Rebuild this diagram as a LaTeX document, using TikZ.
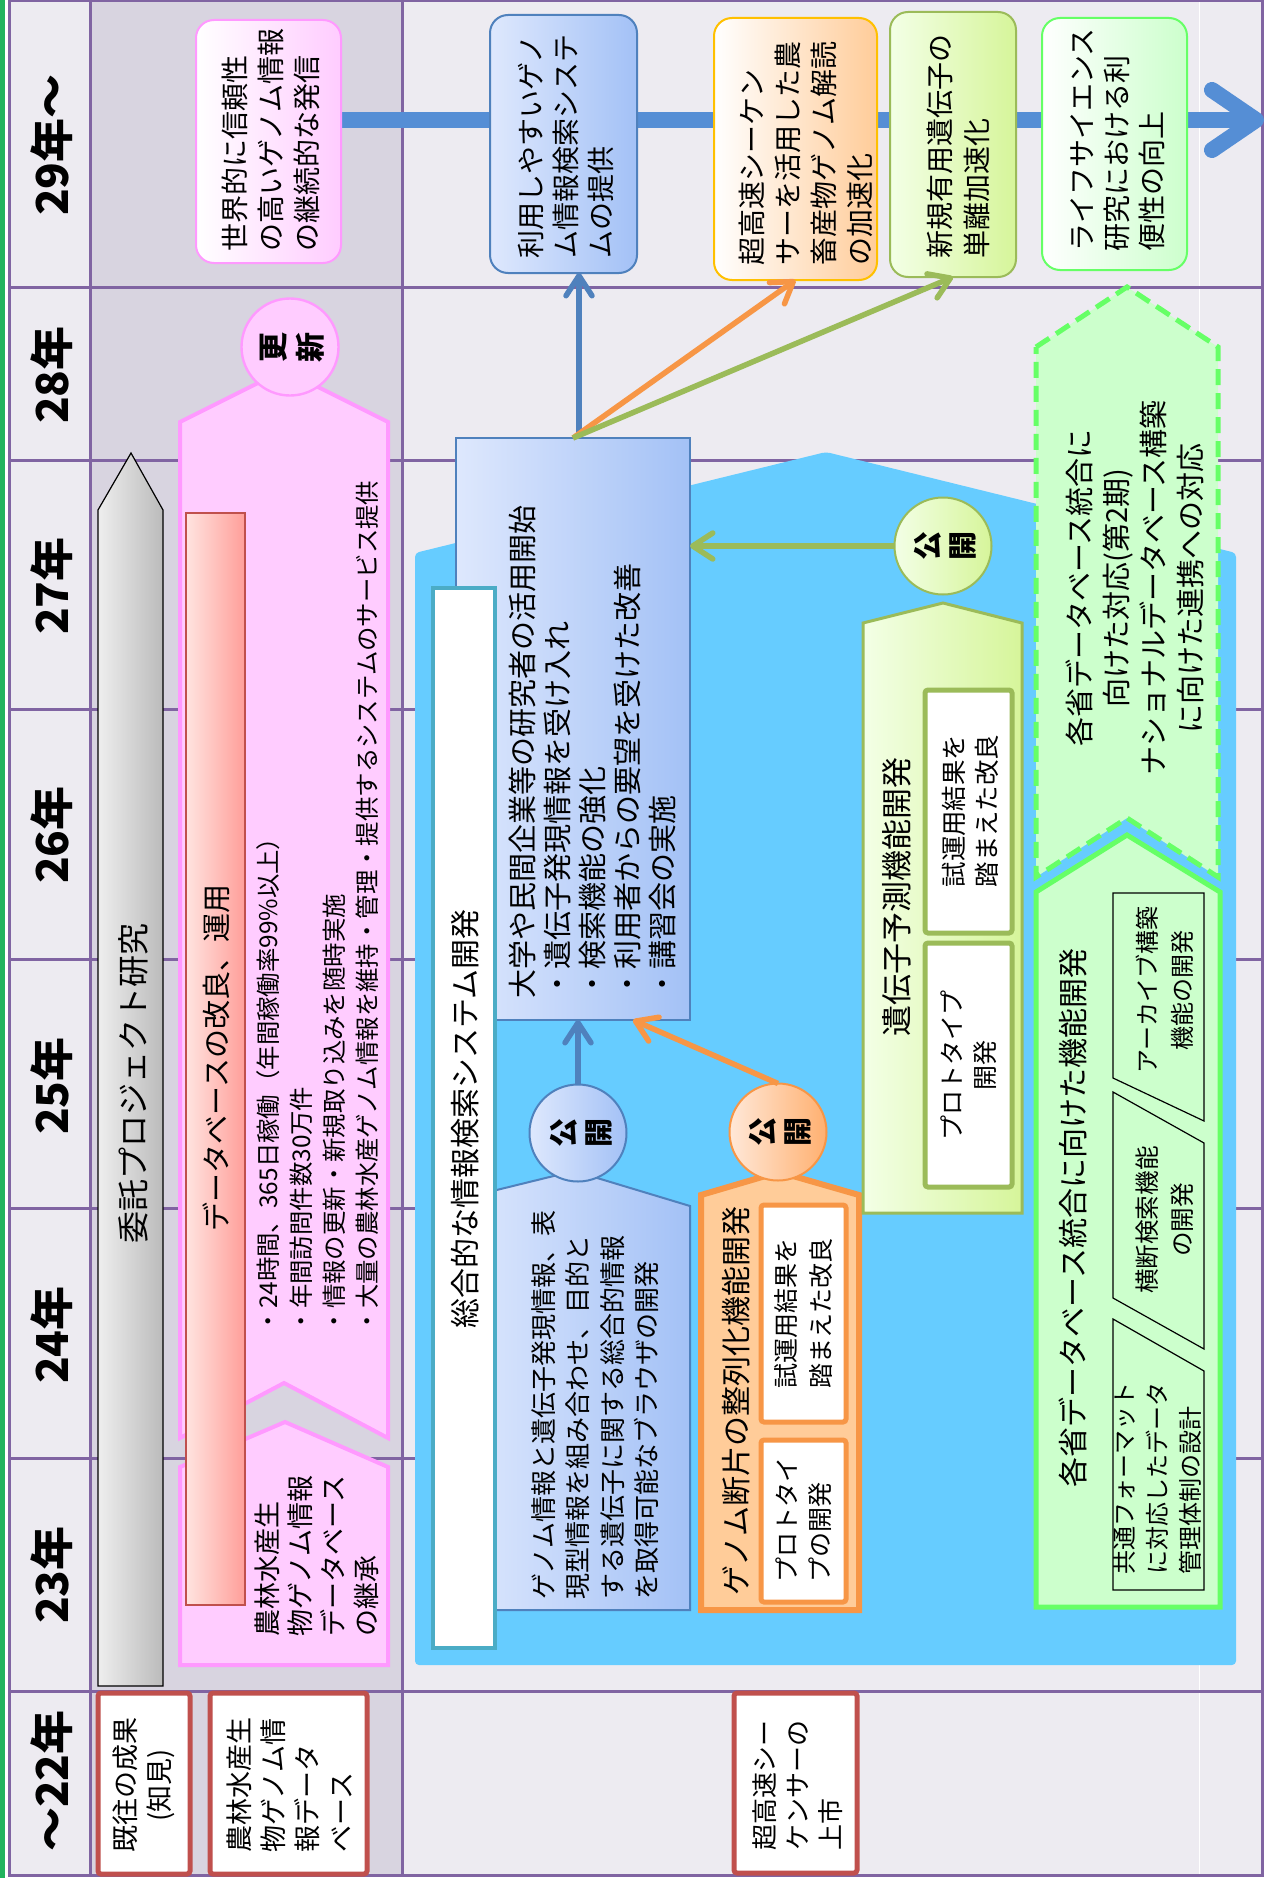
\documentclass[tikz,border=0pt]{standalone}
\usepackage{fontspec}
\setmainfont{Noto Sans CJK JP}
\usetikzlibrary{arrows.meta,shapes.geometric}
\definecolor{gridc}{HTML}{8064A2}
\definecolor{bgl}{HTML}{EDEBF1}
\definecolor{bgg}{HTML}{D8D4E0}
\definecolor{pinkf}{HTML}{FFCCFF}
\definecolor{pinkd}{HTML}{FF99FF}
\definecolor{redb}{HTML}{C0504D}
\definecolor{skyb}{HTML}{66CCFF}
\definecolor{blueL}{HTML}{DEE8FD}
\definecolor{blueR}{HTML}{A3C1F6}
\definecolor{blued}{HTML}{4F81BD}
\definecolor{bandc}{HTML}{558ED5}
\definecolor{tealb}{HTML}{4BACC6}
\definecolor{orf}{HTML}{FFCC99}
\definecolor{orL}{HTML}{FFE8D8}
\definecolor{orR}{HTML}{FFB070}
\definecolor{ord}{HTML}{F79646}
\definecolor{goldb}{HTML}{FFC000}
\definecolor{olive}{HTML}{9BBB59}
\definecolor{limeL}{HTML}{F3FFE6}
\definecolor{limeR}{HTML}{D6F59A}
\definecolor{mint}{HTML}{CCFFCC}
\definecolor{mintd}{HTML}{66FF66}
\definecolor{salL}{HTML}{FFE4E0}
\definecolor{salR}{HTML}{FF9E99}
\definecolor{grayL}{HTML}{EEEEEE}
\definecolor{grayR}{HTML}{BBBBBB}
\definecolor{edgegreen}{HTML}{22B35E}
\newcommand\fz[2]{\fontsize{#1}{#2}\selectfont}
\begin{document}
\begin{tikzpicture}[x=0.5pt,y=-0.5pt,
  vt/.style={rotate=90, inner sep=0pt, align=left, text=black},
  vtc/.style={rotate=90, inner sep=0pt, align=center, text=black},
  yr/.style={vtc, font=\fz{22}{24}\bfseries},
  gridline/.style={draw=gridc, line width=1.5pt},
  rb/.style={rectangle, inner sep=0pt, outer sep=0pt},
  redbox/.style={rb, draw=redb, line width=2.5pt, fill=white, rounded corners=1.5pt},
  topbox/.style={rb, line width=1pt, rounded corners=9pt},
  disc/.style={circle, inner sep=0pt, outer sep=0pt, minimum size=48.5pt, line width=1pt},
  thinarrow/.style={line width=2.75pt, -{Straight Barb[length=10pt,width=13pt,round]}},
  bandarrow/.style={line width=8pt, line cap=round, color=bandc, -{Straight Barb[length=22pt,width=30pt,round]}}
]
\useasboundingbox (0,0) rectangle (1271,1884);
\fill[white] (0,0) rectangle (1271,1884);
% backgrounds
\fill[bgl] (9,1) rectangle (1262,1875);
\fill[bgg] (90,1) rectangle (402,1875);
\draw[white, line width=0.5pt] (1199,1) -- (1199,1875);
% grid
\foreach \yy in {287,460,709,959,1208,1458,1691} \draw[gridline] (9,\yy) -- (1262,\yy);
\draw[gridline] (90,1) -- (90,1875);
\draw[gridline] (402,1) -- (402,1875);
\draw[gridline] (9,1) rectangle (1262,1875);
\draw[edgegreen, line width=2.5pt] (2,0) -- (2,1878);
% year labels
\node[yr] (y29) at (52,145) {29年～};
\node[yr] (y28) at (52,375) {28年};
\node[yr] (y27) at (52,586) {27年};
\node[yr] (y26) at (52,835) {26年};
\node[yr] (y25) at (52,1086) {25年};
\node[yr] (y24) at (52,1335) {24年};
\node[yr] (y23) at (52,1575) {23年};
\node[yr] (y22) at (52,1781) {～22年};

% ===== gray column =====
\path[draw=black, line width=0.6pt, left color=grayL, right color=grayR]
  (98,510) -- (131,453) -- (163,510) -- (163,1686) -- (98,1686) -- cycle;
\node[vtc, font=\fz{16}{18}] (itaku) at (133,1083) {委託プロジェクト研究};

\path[fill=pinkf, draw=pinkd, line width=2pt, line join=miter]
  (180,422) -- (284,370) -- (388,422) -- (388,1438) -- (284,1383) -- (180,1438) -- cycle;
\path[fill=pinkf, draw=pinkd, line width=2pt]
  (180,1467) -- (285,1422) -- (388,1467) -- (388,1665) -- (180,1665) -- cycle;
\node[rb, draw=redb, line width=0.8pt, left color=salL, right color=salR, minimum width=29.5pt, minimum height=546pt] (salbar) at (215.5,1059) {};
\node[vtc, font=\fz{14.5}{17}] (dbkai) at (216,1058) {データベースの改良、運用};
\node[vt, font=\fz{12.2}{16.5}] (bul) at (318,907) {・24時間、365日稼働（年間稼働率99\%以上）\\・年間訪問件数30万件\\・情報の更新・新規取り込みを随時実施\\・大量の農林水産ゲノム情報を維持・管理・提供するシステムのサービス提供};
\node[disc, fill=pinkf, draw=pinkd, line width=1.2pt] (ckoushin) at (290,347) {};
\node[vtc, font=\fz{15}{18.5}\bfseries] (tkoushin) at (292,347) {更\\新};
\node[vt, font=\fz{13.5}{16.5}] (keisho) at (317,1556) {農林水産生\\物ゲノム情報\\データベース\\の継承};

\node[redbox, minimum width=46pt, minimum height=90.5pt] (kio) at (144,1783.5) {};
\node[vtc, font=\fz{13.5}{17}] (tkio) at (144,1785) {既往の成果\\(知見)};
\node[redbox, minimum width=78.5pt, minimum height=90.5pt] (nodb) at (288.5,1783.5) {};
\node[vt, font=\fz{13.5}{17}] (tnodb) at (290,1785) {農林水産生\\物ゲノム情\\報データ\\ベース};

% ===== top row =====
\coordinate (bandS) at (341,120);
\coordinate (bandE) at (1264,120);
\draw[bandarrow] (bandS) -- (bandE);

\node[topbox, draw=pinkd, left color=white, right color=pinkf, minimum width=72.5pt, minimum height=121.5pt] (wbox) at (268.5,141.5) {};
\node[vt, font=\fz{14}{18}] (twbox) at (271,140) {世界的に信頼性\\の高いゲノム情報\\の継続的な発信};
\node[topbox, draw=blued, left color=blueL, right color=blueR, minimum width=73.5pt, minimum height=129pt] (riyo) at (563.5,144) {};
\node[vt, font=\fz{14}{17.5}] (triyo) at (565.5,146) {利用しやすいゲノ\\ム情報検索システ\\ムの提供};
\node[topbox, draw=goldb, left color=white, right color=orf, minimum width=81.5pt, minimum height=131pt] (tokou) at (795.5,149) {};
\node[vt, font=\fz{14}{18}] (ttokou) at (806,153) {超高速シーケン\\サーを活用した農\\畜産物ゲノム解読\\の加速化};
\node[topbox, draw=olive, left color=limeL, right color=limeR, minimum width=63pt, minimum height=132.5pt] (shinki) at (953,144.5) {};
\node[vt, font=\fz{14}{18.5}] (tshinki) at (958.5,146) {新規有用遺伝子の\\単離加速化};
\node[topbox, draw=mintd, left color=white, right color=mint, minimum width=72.5pt, minimum height=126pt] (life) at (1114.5,144) {};
\node[vt, font=\fz{14}{17.5}] (tlife) at (1117.5,140) {ライフサイエンス\\研究における利\\便性の向上};

% ===== blue region =====
\path[fill=skyb, rounded corners=2pt] (415,553) -- (826,452) -- (1236,553) -- (1236,1665) -- (415,1665) -- cycle;

\node[rb, draw=blued, line width=1pt, left color=blueL, right color=blueR, minimum width=117pt, minimum height=291pt] (sys) at (573,729) {};
\node[vt, font=\fz{14.5}{17.5}] (tsys) at (592,752) {大学や民間企業等の研究者の活用開始\\・遺伝子発現情報を受け入れ\\・検索機能の強化\\・利用者からの要望を受けた改善\\・講習会の実施};

\path[draw=blued, line width=1pt, left color=blueL, right color=blueR]
  (460,1199) -- (574,1171) -- (690,1206) -- (690,1610) -- (460,1610) -- cycle;
\node[vt, font=\fz{13}{17.25}] (tbrow) at (595,1405) {ゲノム情報と遺伝子発現情報、表\\現型情報を組み合わせ、目的と\\する遺伝子に関する総合的情報\\を取得可能なブラウザの開発};

\node[rb, draw=tealb, line width=2.25pt, fill=white, minimum width=31pt, minimum height=530pt] (wbar) at (464,1118) {};
\node[vtc, font=\fz{15}{17}] (twbar) at (465,1119) {総合的な情報検索システム開発};

\node[disc, draw=blued, left color=blueL, right color=blueR] (cblue) at (578,1133) {};
\node[vtc, font=\fz{14.5}{17.5}\bfseries] (tcblue) at (581,1133) {公\\開};

% orange
\path[fill=orf, draw=ord, line width=3pt]
  (701,1195) -- (779,1172) -- (859,1195) -- (859,1610) -- (701,1610) -- cycle;
\node[vtc, font=\fz{15}{17}] (tseiretsu) at (736,1401) {ゲノム断片の整列化機能開発};
\node[rb, draw=ord, line width=2.5pt, fill=white, rounded corners=1.5pt, minimum width=42.5pt, minimum height=108.5pt] (oin1) at (803.5,1313.5) {};
\node[vtc, font=\fz{12.5}{17.5}] (toin1) at (804,1313) {試運用結果を\\踏まえた改良};
\node[rb, draw=ord, line width=2.5pt, fill=white, rounded corners=1.5pt, minimum width=42.5pt, minimum height=81pt] (oin2) at (803.5,1521) {};
\node[vt, font=\fz{12.5}{16.5}] (toin2) at (803.5,1520) {プロトタイ\\プの開発};
\node[disc, draw=ord, left color=orL, right color=orR] (corange) at (778,1132) {};
\node[vtc, font=\fz{14.5}{17.5}\bfseries] (tcorange) at (780,1132) {公\\開};

% light green (gene prediction)
\path[draw=olive, line width=1.5pt, left color=limeL, right color=limeR]
  (863,623) -- (943,603) -- (1022,623) -- (1022,1213) -- (863,1213) -- cycle;
\node[vtc, font=\fz{15.5}{17}] (tyosoku) at (897,897) {遺伝子予測機能開発};
\node[rb, draw=olive, line width=2.5pt, fill=white, rounded corners=1.5pt, minimum width=43.5pt, minimum height=121.5pt] (gin1) at (968.5,811.5) {};
\node[vtc, font=\fz{12.7}{16.5}] (tgin1) at (970,811) {試運用結果を\\踏まえた改良};
\node[rb, draw=olive, line width=2.5pt, fill=white, rounded corners=1.5pt, minimum width=43.5pt, minimum height=122pt] (gin2) at (968.5,1065) {};
\node[vtc, font=\fz{12.5}{16.5}] (tgin2) at (968.5,1065) {プロトタイプ\\開発};
\node[disc, draw=olive, left color=limeL, right color=limeR] (cgreen) at (943,546) {};
\node[vtc, font=\fz{14.5}{17.5}\bfseries] (tcgreen) at (945,546) {公\\開};

% dashed green pentagon
\path[fill=mint, draw=mintd, line width=2.5pt, dash pattern=on 8pt off 4pt]
  (1036,347) -- (1127,287) -- (1218,347) -- (1218,877) -- (1127,818) -- (1036,877) -- cycle;
\node[vtc, font=\fz{14.5}{18.5}] (tdaini) at (1135,588) {各省データベース統合に\\向けた対応(第2期)\\ナショナルデータベース構築\\に向けた連携への対応};

% solid green pentagon
\path[fill=mint, draw=mintd, line width=2.5pt]
  (1036,892) -- (1127,835) -- (1220,892) -- (1220,1607) -- (1036,1607) -- cycle;
\node[vtc, font=\fz{15}{17}] (tkino) at (1073,1218) {各省データベース統合に向けた機能開発};
\path[draw=black, line width=0.6pt] (1113,893) -- (1204,893) -- (1204,1121) -- (1113,1078) -- cycle;
\path[draw=black, line width=0.6pt] (1113,1092) -- (1204,1143) -- (1204,1349) -- (1113,1298) -- cycle;
\path[draw=black, line width=0.6pt] (1113,1319) -- (1204,1371) -- (1204,1590) -- (1113,1590) -- cycle;
\node[vtc, font=\fz{12}{17.5}] (tarch) at (1165,990) {アーカイブ構築\\機能の開発};
\node[vtc, font=\fz{12.3}{17.5}] (tcross) at (1165,1220) {横断検索機能\\の開発};
\node[vt, font=\fz{12}{16.5}] (tformat) at (1157,1478) {共通フォーマット\\に対応したデータ\\管理体制の設計};

% row 22 main
\node[redbox, minimum width=61.5pt, minimum height=90pt] (seq22) at (795.5,1783) {};
\node[vt, font=\fz{13}{16.5}] (tseq22) at (797.5,1785) {超高速シー\\ケンサーの\\上市};

% ===== connectors =====
\draw[thinarrow, blued] ([xshift=3pt]sys.north) -- ([xshift=3pt]sys.north |- riyo.south);
\draw[thinarrow, ord] (sys.north) -- (tokou.south);
\draw[thinarrow, olive] (sys.north) -- (shinki.south);
\draw[thinarrow, blued] (cblue.north) -- (cblue.north |- sys.south);
\draw[thinarrow, ord] (corange.north) -- ([xshift=30pt]sys.south);
\draw[thinarrow, olive] (cgreen.west) -- (sys.east |- cgreen.west);
\end{tikzpicture}
\end{document}
